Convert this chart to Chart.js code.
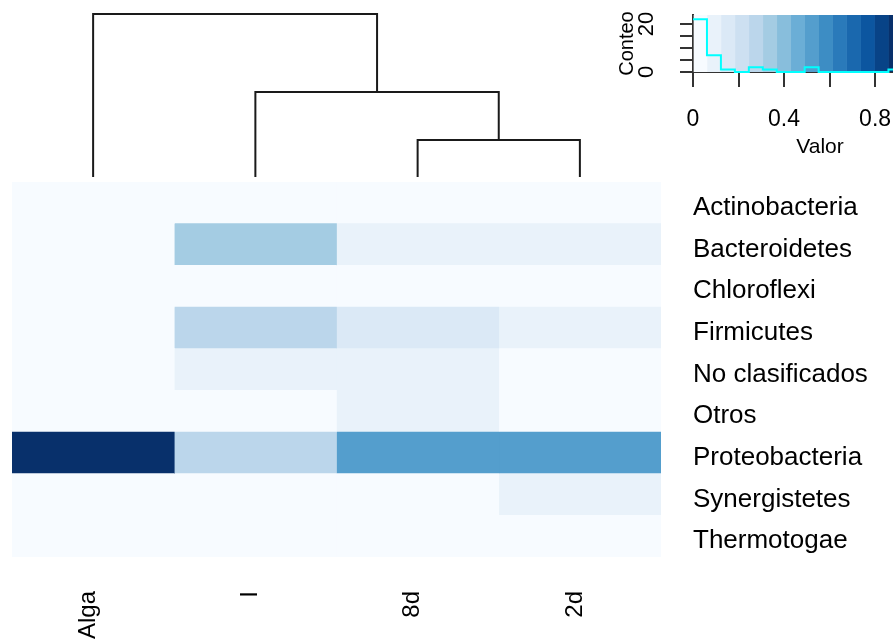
<!DOCTYPE html>
<html>
<head>
<meta charset="utf-8">
<script src="https://cdn.jsdelivr.net/npm/chart.js@4.4.1/dist/chart.umd.min.js"></script>
<style>
  html, body { margin: 0; padding: 0; background: #fff; overflow: hidden; }
  #wrap { position: relative; width: 893px; height: 640px; overflow: hidden; }
  canvas { position: absolute; }
</style>
</head>
<body>
<div id="wrap">
  <canvas id="heatmap" width="893" height="640" style="left:0;top:0"></canvas>
  <canvas id="dendro" width="649" height="180" style="left:12px;top:0"></canvas>
  <canvas id="key" width="350" height="165" style="left:600px;top:0"></canvas>
</div>
<script>
// columnas (orden del dendrograma) y filas
const columnas = ["Alga", "I", "8d", "2d"];
const filos = ["Actinobacteria", "Bacteroidetes", "Chloroflexi", "Firmicutes",
  "No clasificados", "Otros", "Proteobacteria", "Synergistetes", "Thermotogae"];

// abundancia relativa por muestra (mismo orden que filos)
const alga    = [0.01, 0.02, 0.01, 0.02, 0.02, 0.01, 0.92, 0.01, 0.00];
const inoculo = [0.02, 0.33, 0.01, 0.27, 0.09, 0.03, 0.27, 0.01, 0.01];
const dia8    = [0.01, 0.09, 0.02, 0.14, 0.09, 0.08, 0.52, 0.04, 0.01];
const dia2    = [0.01, 0.10, 0.01, 0.08, 0.05, 0.05, 0.52, 0.09, 0.04];

// dendrograma de columnas (estilo hclust: negativo = hoja)
const fusiones = [[-3, -4], [-2, 1], [-1, 2]];
const alturas = [0.37, 0.85, 1.63];

// ticks de la leyenda
const ticksValor = [0, 0.2, 0.4, 0.6, 0.8];
const etiquetasValor = [0, 0.4, 0.8];
const ticksConteo = [0, 5, 10, 15, 20];
const etiquetasConteo = [0, 20];

Chart.defaults.font.family = "'Liberation Sans', Arial, sans-serif";
Chart.defaults.color = "#000";

const muestras = [alga, inoculo, dia8, dia2];

// paleta Blues interpolada a 15 colores
const azules = ["#F7FBFF", "#DEEBF7", "#C6DBEF", "#9ECAE1", "#6BAED6", "#4292C6", "#2171B5", "#08519C", "#08306B"];
const nColores = 15;
function hexRgb(h) { return [1, 3, 5].map(i => parseInt(h.substr(i, 2), 16)); }
const colores = [];
for (let i = 0; i < nColores; i++) {
  const t = i / (nColores - 1) * (azules.length - 1);
  const k = Math.min(Math.floor(t), azules.length - 2);
  const f = t - k;
  const a = hexRgb(azules[k]), b = hexRgb(azules[k + 1]);
  const c = a.map((v, j) => Math.round(v + (b[j] - v) * f));
  colores.push("rgb(" + c.join(",") + ")");
}

const todos = [].concat(...muestras);
const vmin = Math.min(...todos), vmax = Math.max(...todos);
const paso = (vmax - vmin) / nColores;
const cortes = [];
for (let i = 0; i <= nColores; i++) cortes.push(vmin + i * paso);
function binDe(v) { return Math.min(nColores - 1, Math.floor((v - vmin) / paso + 1e-9)); }
const conteos = new Array(nColores).fill(0);
todos.forEach(v => conteos[binDe(v)]++);

// quita el margen extra que Chart.js reserva para las etiquetas de los extremos
function fijar(ancho, alto) {
  return s => {
    if (ancho != null) s.width = ancho;
    if (alto != null) s.height = alto;
    s.paddingTop = s.paddingBottom = s.paddingLeft = s.paddingRight = 0;
  };
}

// ---------- mapa de calor ----------
new Chart(document.getElementById("heatmap"), {
  type: "bar",
  data: {
    labels: filos,
    datasets: muestras.map((serie, c) => ({
      data: serie.map(() => [c, c + 1]),
      backgroundColor: serie.map(v => colores[binDe(v)]),
      borderWidth: 0,
      grouped: false,
      barPercentage: 1,
      categoryPercentage: 1
    }))
  },
  options: {
    indexAxis: "y",
    responsive: false,
    animation: false,
    layout: { padding: { left: 12, top: 182, right: 0, bottom: 0 } },
    plugins: { legend: { display: false }, tooltip: { enabled: false } },
    scales: {
      x: {
        type: "linear", min: 0, max: columnas.length, position: "bottom", offset: false,
        grid: { display: false, drawTicks: false },
        border: { display: false },
        afterBuildTicks: s => { s.ticks = columnas.map((_, i) => ({ value: i + 0.5 })); },
        afterFit: fijar(null, 83),
        ticks: {
          autoSkip: false, minRotation: 90, maxRotation: 90, padding: 34,
          labelOffset: -5, font: { size: 24 },
          callback: (v, i) => columnas[i]
        }
      },
      y: {
        type: "category", position: "right",
        grid: { display: false, drawTicks: false },
        border: { display: false },
        afterFit: fijar(232, null),
        ticks: { padding: 32, labelOffset: 5, font: { size: 26 } }
      }
    }
  }
});

// ---------- dendrograma ----------
const posNodo = [];
const altNodo = [];
function xDe(n) { return n < 0 ? (-n - 1) + 0.5 : posNodo[n - 1]; }
function hDe(n) { return n < 0 ? 0 : altNodo[n - 1]; }
const ramas = fusiones.map(([a, b], i) => {
  const xa = xDe(a), xb = xDe(b), h = alturas[i];
  posNodo.push((xa + xb) / 2);
  altNodo.push(h);
  return {
    data: [{ x: xa, y: hDe(a) }, { x: xa, y: h }, { x: xb, y: h }, { x: xb, y: hDe(b) }],
    borderColor: "#1a1a1a", borderWidth: 2, pointRadius: 0, fill: false, clip: false
  };
});
new Chart(document.getElementById("dendro"), {
  type: "line",
  data: { datasets: ramas },
  options: {
    responsive: false,
    animation: false,
    layout: { padding: { left: 0, right: 0, top: 0, bottom: 3 } },
    plugins: { legend: { display: false }, tooltip: { enabled: false } },
    scales: {
      x: { type: "linear", min: 0, max: columnas.length, display: false },
      y: { type: "linear", min: 0, max: 1.77, display: false }
    }
  }
});

// ---------- leyenda de color + histograma ----------
const histo = conteos.map((n, i) => ({ x: cortes[i], y: n }));
histo.push({ x: cortes[nColores], y: conteos[nColores - 1] });

new Chart(document.getElementById("key"), {
  type: "bar",
  data: {
    labels: ["k"],
    datasets: [
      {
        type: "line", indexAxis: "x", order: 0,
        data: histo, xAxisID: "x", yAxisID: "y",
        stepped: true, borderColor: "#00FFFF", borderWidth: 2,
        pointRadius: 0, fill: false, clip: false
      }
    ].concat(colores.map((col, i) => ({
      type: "bar", indexAxis: "y", order: 1,
      data: [[cortes[i], cortes[i + 1]]],
      xAxisID: "x", yAxisID: "yb",
      backgroundColor: col, borderWidth: 0,
      grouped: false, barPercentage: 1, categoryPercentage: 1
    })))
  },
  options: {
    responsive: false,
    animation: false,
    layout: { padding: { left: 0, right: 3, top: 15, bottom: 0 } },
    plugins: { legend: { display: false }, tooltip: { enabled: false } },
    scales: {
      x: {
        type: "linear", axis: "x", position: "bottom", min: 0, max: 1.116, offset: false,
        afterBuildTicks: s => { s.ticks = ticksValor.map(v => ({ value: v })); },
        afterFit: fijar(null, 93),
        grid: { offset: false, drawOnChartArea: false, drawTicks: true, tickLength: 15, color: "#333", lineWidth: 2 },
        border: { color: "#333", width: 2 },
        ticks: {
          autoSkip: false, maxRotation: 0, padding: 19, font: { size: 23 },
          callback: v => etiquetasValor.some(t => Math.abs(t - v) < 1e-9) ? String(v) : ""
        },
        title: { display: true, text: "Valor", font: { size: 21 }, padding: { top: 0, bottom: 5 } }
      },
      y: {
        type: "linear", axis: "y", position: "left", min: 0, max: 23.75, offset: false,
        afterBuildTicks: s => { s.ticks = ticksConteo.map(v => ({ value: v })); },
        afterFit: fijar(93, null),
        grid: { offset: false, drawOnChartArea: false, drawTicks: true, tickLength: 13, color: "#333", lineWidth: 2 },
        border: { color: "#333", width: 2 },
        ticks: {
          autoSkip: false, minRotation: 90, maxRotation: 90, crossAlign: "center",
          padding: 21, font: { size: 22 },
          callback: v => etiquetasConteo.includes(v) ? String(v) : ""
        },
        title: { display: true, text: "Conteo", font: { size: 20 }, padding: { top: 15, bottom: 0 } }
      },
      yb: { type: "category", axis: "y", display: false, offset: true }
    }
  }
});
</script>
</body>
</html>
